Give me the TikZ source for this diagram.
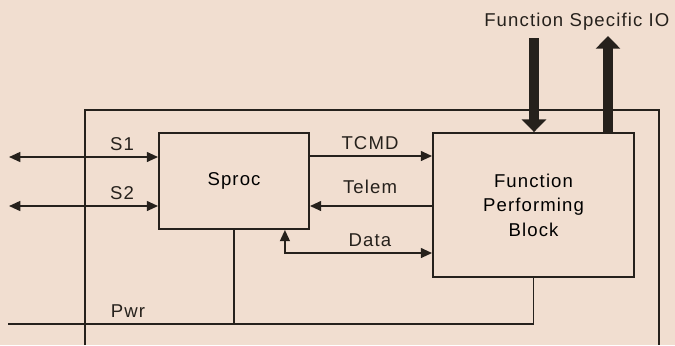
\documentclass[tikz,border=0pt]{standalone}
\usepackage{fontspec}
\setmainfont{Liberation Sans}
\newfontfamily\lblfont{Liberation Sans}[LetterSpace=6.0]
\usetikzlibrary{arrows.meta}
\definecolor{paper}{RGB}{241,222,208}
\definecolor{ink}{RGB}{38,33,28}
\tikzset{
  blk/.style={draw=ink, line width=1.3pt, rectangle, inner sep=0pt},
  lbl/.style={text=ink, inner sep=0pt},
  wire/.style={draw=ink, line width=1.3pt},
  tip/.style={-{Triangle[length=8pt,width=7pt]}},
  tips/.style={{Triangle[length=8pt,width=7pt]}-{Triangle[length=8pt,width=7pt]}},
  fat/.style={draw=ink, line width=7.5pt, -{Triangle[length=9pt,width=17pt]}}
}
\begin{document}
\begin{tikzpicture}[x=0.025cm,y=-0.025cm,font=\lblfont\fontsize{13.2}{17.5}\selectfont]
\path[use as bounding box, fill=paper] (0,0) rectangle (675,345);

\node[blk, minimum width=3.75cm, minimum height=2.4cm] (sproc) at (234,181) {Sproc};
\node[blk, minimum width=5.025cm, minimum height=3.6cm, align=center] (fpb) at (533.5,205) {Function\\Performing\\Block};

\coordinate (s1end) at (9,157);
\coordinate (s2end) at (9,206);
\coordinate (pwrend) at (8,324);
\coordinate (ioin) at (534,38);
\coordinate (ioout) at (608,36);

% signal labels
\node[lbl] (s1) at (122,144) {S1};
\node[lbl] (s2) at (122,193) {S2};
\node[lbl] (tcmd) at (370,143) {TCMD};
\node[lbl] (telem) at (370,187) {Telem};
\node[lbl] (data) at (370,240) {Data};
\node[lbl] (pwr) at (128,311) {Pwr};
\node[lbl, anchor=west] (fsio) at (484,22) {Function Specific IO};

% enclosure, open at the bottom
\draw[wire] (85,345) -- (85,110) -- (659,110) -- (659,345);

\path[wire,tips] (s1end) -- (sproc.west |- s1end);
\path[wire,tips] (s2end) -- (sproc.west |- s2end);
\path[wire,tip] (sproc.east |- 0,156) -- (fpb.west |- 0,156);
\path[wire,tip] (fpb.west |- s2end) -- (sproc.east |- s2end);
\path[wire,tips] ([xshift=-0.625cm]sproc.south east) |- (fpb.west |- 0,253);

\path[wire] (pwrend) -| (fpb.south);
\path[wire] (sproc.south) -- (sproc.south |- pwrend);

\path[fat] (ioin) -- (ioin |- fpb.north);
\path[fat] (ioout |- fpb.north) -- (ioout);
\end{tikzpicture}
\end{document}
